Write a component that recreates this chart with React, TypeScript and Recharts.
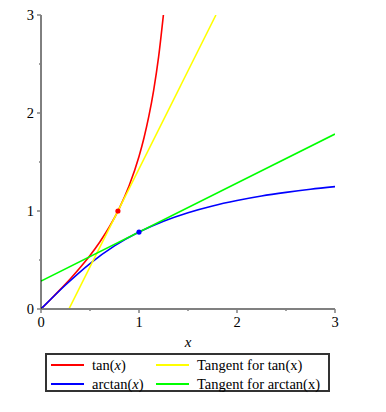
import React from 'react';
import {
  ComposedChart,
  Line,
  Scatter,
  XAxis,
  YAxis,
} from 'recharts';

// values
const tanX = [0, 0.1, 0.2, 0.3, 0.4, 0.5, 0.6, 0.7, 0.8, 0.9, 1.0, 1.05, 1.1, 1.15, 1.2, 1.249];
const tanY = [0, 0.1, 0.203, 0.309, 0.423, 0.546, 0.684, 0.842, 1.03, 1.26, 1.557, 1.743, 1.965, 2.234, 2.572, 3.0];

const arctanX = [0, 0.25, 0.5, 0.75, 1, 1.25, 1.5, 1.75, 2, 2.25, 2.5, 2.75, 3];
const arctanY = [0, 0.245, 0.464, 0.644, 0.785, 0.896, 0.983, 1.052, 1.107, 1.153, 1.19, 1.222, 1.249];

const tanTangentX = [0.285, 1.785];
const tanTangentY = [0, 3];

const arctanTangentX = [0, 3];
const arctanTangentY = [0.285, 1.785];

const tanPointX = [0.785];
const tanPointY = [1];
const arctanPointX = [1];
const arctanPointY = [0.785];

const axisTicks = [0, 0.5, 1, 1.5, 2, 2.5, 3];

const toRows = (xs: number[], ys: number[]) => xs.map((x, i) => ({ x, y: ys[i] }));

const tanData = toRows(tanX, tanY);
const arctanData = toRows(arctanX, arctanY);
const tanTangentData = toRows(tanTangentX, tanTangentY);
const arctanTangentData = toRows(arctanTangentX, arctanTangentY);
const tanPoint = toRows(tanPointX, tanPointY);
const arctanPoint = toRows(arctanPointX, arctanPointY);

const FONT = '"Liberation Serif", "DejaVu Serif", serif';

const XTick = (props: any) => {
  const { x, y, payload } = props;
  const major = Number.isInteger(payload.value);
  return (
    <g>
      <line x1={x} x2={x} y1={y} y2={y + (major ? 4 : 2)} stroke="#808080" strokeWidth={1.5} />
      {major && (
        <text x={x} y={y + 18} textAnchor="middle" fontFamily={FONT} fontSize={14.5} fill="#000">
          {payload.value}
        </text>
      )}
    </g>
  );
};

const YTick = (props: any) => {
  const { x, y, payload } = props;
  const major = Number.isInteger(payload.value);
  return (
    <g>
      <line x1={x} x2={x - (major ? 4 : 2)} y1={y} y2={y} stroke="#808080" strokeWidth={1.5} />
      {major && (
        <text x={x - 7} y={y + 5} textAnchor="end" fontFamily={FONT} fontSize={14.5} fill="#000">
          {payload.value}
        </text>
      )}
    </g>
  );
};

const legendItems = [
  { color: '#ff0000', name: 'tan', arg: 'x', italic: true },
  { color: '#ffff00', name: 'Tangent for tan', arg: 'x', italic: false },
  { color: '#0000ff', name: 'arctan', arg: 'x', italic: true },
  { color: '#00ff00', name: 'Tangent for arctan', arg: 'x', italic: false },
];

const App: React.FC = () => {
  return (
    <div style={{ position: 'absolute', left: 0, top: 0, width: 386, height: 412, background: '#fff' }}>
      <ComposedChart
        width={386}
        height={412}
        margin={{ top: 15, right: 51, bottom: 73, left: 11 }}
      >
        <XAxis
          type="number"
          dataKey="x"
          domain={[0, 3]}
          ticks={axisTicks}
          allowDataOverflow
          height={30}
          stroke="#808080"
          strokeWidth={2}
          tickLine={false}
          tickSize={0}
          tickMargin={0}
          tick={<XTick />}
          interval={0}
        />
        <YAxis
          type="number"
          dataKey="y"
          domain={[0, 3]}
          ticks={axisTicks}
          allowDataOverflow
          width={30}
          stroke="#000"
          tickLine={false}
          tickSize={0}
          tickMargin={0}
          tick={<YTick />}
          interval={0}
        />
        <Line data={tanData} dataKey="y" type="monotone" stroke="#ff0000" strokeWidth={1.6} dot={false} isAnimationActive={false} />
        <Line data={arctanData} dataKey="y" type="monotone" stroke="#0000ff" strokeWidth={1.6} dot={false} isAnimationActive={false} />
        <Line data={tanTangentData} dataKey="y" type="linear" stroke="#ffff00" strokeWidth={1.6} dot={false} isAnimationActive={false} />
        <Line data={arctanTangentData} dataKey="y" type="linear" stroke="#00ff00" strokeWidth={1.6} dot={false} isAnimationActive={false} />
        <Scatter data={tanPoint} dataKey="y" fill="#ff0000" shape={(p: any) => <circle cx={p.cx} cy={p.cy} r={2.6} fill="#ff0000" />} isAnimationActive={false} />
        <Scatter data={arctanPoint} dataKey="y" fill="#0000ff" shape={(p: any) => <circle cx={p.cx} cy={p.cy} r={2.6} fill="#0000ff" />} isAnimationActive={false} />
        <text x={188} y={347} textAnchor="middle" fontFamily={FONT} fontStyle="italic" fontSize={15}>
          x
        </text>
      </ComposedChart>
      <div
        style={{
          position: 'absolute',
          left: 45,
          top: 353,
          width: 281,
          height: 35,
          border: '2px solid #333',
          fontFamily: FONT,
          fontSize: 14.5,
        }}
      >
        {legendItems.map((item, i) => {
          const col = i % 2;
          const row = Math.floor(i / 2);
          return (
            <div
              key={item.name}
              style={{
                position: 'absolute',
                left: col === 0 ? 4 : 109,
                top: row === 0 ? 1 : 20,
                height: 18,
                display: 'flex',
                alignItems: 'center',
                whiteSpace: 'nowrap',
              }}
            >
              <span style={{ display: 'inline-block', width: 33, height: 2.5, background: item.color, marginRight: 8 }} />
              <span>
                {item.name}({item.italic ? <i>{item.arg}</i> : item.arg})
              </span>
            </div>
          );
        })}
      </div>
    </div>
  );
};

export default App;
